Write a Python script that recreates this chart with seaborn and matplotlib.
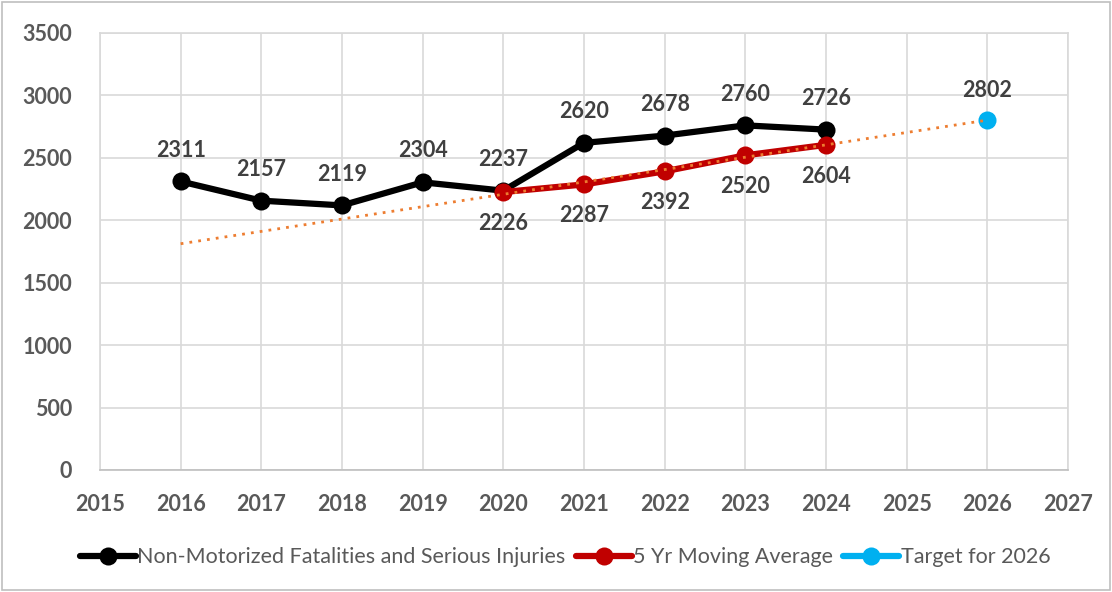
import numpy as np
import pandas as pd
import matplotlib
matplotlib.use('Agg')
import matplotlib.pyplot as plt
import seaborn as sns

sns.set_style('white')
plt.rcParams['font.family'] = ['Lato', 'DejaVu Sans']

# data
years = [2016, 2017, 2018, 2019, 2020, 2021, 2022, 2023, 2024]
fsi = [2311, 2157, 2119, 2304, 2237, 2620, 2678, 2760, 2726]
ma_years = [2020, 2021, 2022, 2023, 2024]
ma_vals = [2226, 2287, 2392, 2520, 2604]
target_year = [2026]
target_val = [2802]
trend_years = [2016, 2026]
trend_vals = [1812, 2802]

df_fsi = pd.DataFrame({'year': years, 'value': fsi})
df_ma = pd.DataFrame({'year': ma_years, 'value': ma_vals})
df_tg = pd.DataFrame({'year': target_year, 'value': target_val})
df_tr = pd.DataFrame({'year': trend_years, 'value': trend_vals})

lab_col = '#404040'
grid_col = '#d9d9d9'
fs = 15.5

fig = plt.figure(figsize=(11.12, 5.92), dpi=100)
ax = fig.add_axes([0.0899, 0.2061, 0.8705, 0.7382])

sns.lineplot(data=df_fsi, x='year', y='value', ax=ax, color='black', lw=4.5,
             marker='o', markersize=13, markeredgewidth=0, zorder=3,
             label='Non-Motorized Fatalities and Serious Injuries')
sns.lineplot(data=df_ma, x='year', y='value', ax=ax, color='#c00000', lw=4.5,
             marker='o', markersize=13, markeredgewidth=0, zorder=4,
             label='5 Yr Moving Average')
sns.lineplot(data=df_tg, x='year', y='value', ax=ax, color='#00b0f0', lw=4.5,
             marker='o', markersize=13, markeredgewidth=0, zorder=4,
             label='Target for 2026')
sns.lineplot(data=df_tr, x='year', y='value', ax=ax, color='#ed7d31', lw=2,
             linestyle=(0, (1, 2.2)), zorder=5, legend=False)

for x, y in zip(years, fsi):
    ax.annotate(str(y), (x, y), xytext=(0, 15), textcoords='offset points',
                ha='center', va='bottom', fontsize=fs, fontweight='bold', color=lab_col)
for x, y in zip(ma_years, ma_vals):
    ax.annotate(str(y), (x, y), xytext=(0, -15), textcoords='offset points',
                ha='center', va='top', fontsize=fs, fontweight='bold', color=lab_col)
for x, y in zip(target_year, target_val):
    ax.annotate(str(y), (x, y), xytext=(0, 14), textcoords='offset points',
                ha='center', va='bottom', fontsize=fs, fontweight='bold', color=lab_col)

ax.set_xlim(2015, 2027)
ax.set_ylim(0, 3500)
ax.set_xticks(range(2015, 2028))
ax.set_yticks(range(0, 3501, 500))
ax.grid(True, color=grid_col, lw=1.2)
ax.set_axisbelow(True)
for s in ax.spines.values():
    s.set_color(grid_col)
    s.set_linewidth(1.2)
ax.spines['bottom'].set_color('#bfbfbf')
ax.tick_params(axis='both', length=0, labelsize=fs, labelcolor='#595959')
ax.tick_params(axis='x', pad=17)
ax.tick_params(axis='y', pad=20)
for t in ax.get_xticklabels() + ax.get_yticklabels():
    t.set_fontweight('bold')
ax.set_xlabel('')
ax.set_ylabel('')

ax.legend(loc='center', bbox_to_anchor=(0.508, 0.059), bbox_transform=fig.transFigure,
          ncol=3, frameon=False, fontsize=15.5, handlelength=2.6, handletextpad=0.05,
          columnspacing=0.5, labelcolor='#595959')

fig.add_artist(plt.Rectangle((0.0015, 0.003), 0.997, 0.994, transform=fig.transFigure,
                             fill=False, edgecolor='#bfbfbf', lw=1.2))

fig.savefig('out.png', dpi=100)
